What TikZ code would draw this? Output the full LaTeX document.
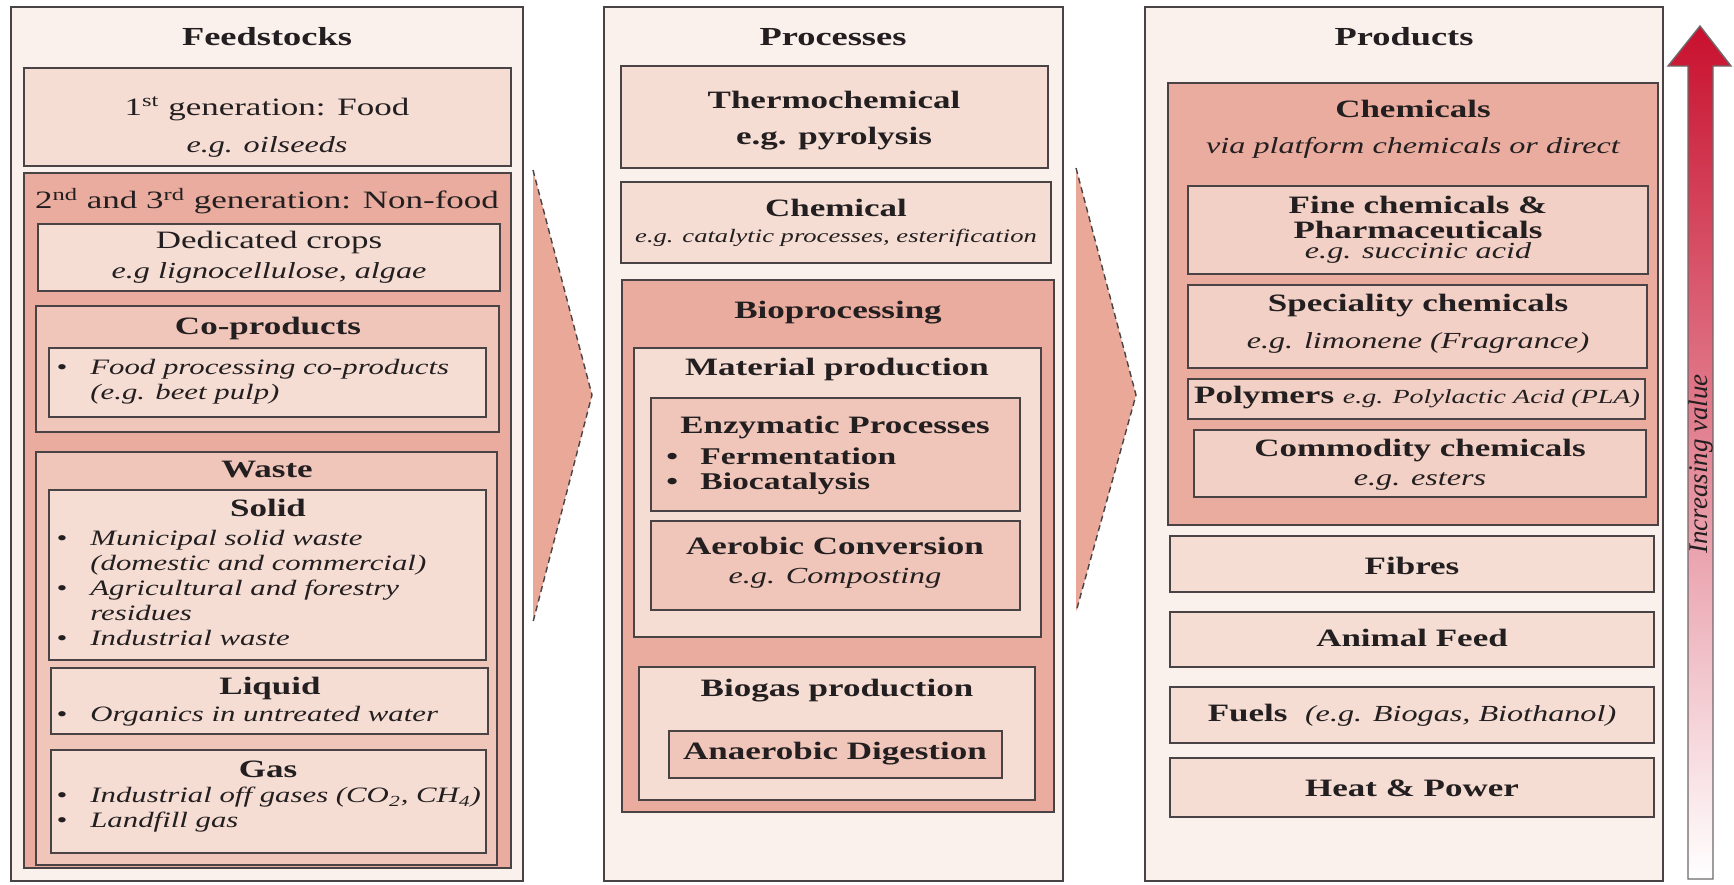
\documentclass[tikz,border=0pt]{standalone}
\usepackage{fontspec}
\setmainfont[FakeStretch=1.4]{Liberation Serif}
\newfontfamily\plainfont{Liberation Serif}
\definecolor{linegray}{HTML}{4A4345}
\definecolor{outerfill}{HTML}{FAF0EC}
\definecolor{lightfill}{HTML}{F6DDD4}
\definecolor{softfill}{HTML}{F3D0C5}
\definecolor{midfill}{HTML}{F1C6BA}
\definecolor{darkfill}{HTML}{EAAC9F}
\definecolor{arrowfill}{HTML}{EAA899}
\definecolor{valuered}{HTML}{C8102E}
\definecolor{ink}{HTML}{231F20}
\newcommand{\itm}{\makebox[17pt][l]{\textbullet}}
\newcommand{\ind}{\hspace*{17pt}}
\begin{document}
\begin{tikzpicture}[x=0.5pt, y=-0.5pt,
		outerbox/.style={draw=linegray, line width=1pt, fill=outerfill},
		lightbox/.style={draw=linegray, line width=1pt, fill=lightfill},
		softbox/.style={draw=linegray, line width=1pt, fill=softfill},
		midbox/.style={draw=linegray, line width=1pt, fill=midfill},
		darkbox/.style={draw=linegray, line width=1pt, fill=darkfill},
		every node/.style={text=ink, inner sep=0pt},
		colttl/.style={font=\bfseries\fontsize{13}{15}\selectfont},
		boxttl/.style={font=\bfseries\fontsize{12.5}{14}\selectfont},
		lbl/.style={font=\fontsize{12.5}{14}\selectfont},
		eg/.style={font=\itshape\fontsize{11.5}{13}\selectfont},
		items/.style={font=\itshape\fontsize{11}{12.5}\selectfont, align=left, anchor=west},
		flowedge/.style={draw=linegray, line width=0.7pt, densely dashed}]
	\useasboundingbox (0,0) rectangle (1734,884);
	\fill[white] (0,0) rectangle (1734,884);

	% Feedstocks column
	\filldraw[outerbox] (11,7) rectangle (523,881);
	\node[colttl] (feed) at (267,37) {Feedstocks};
	\filldraw[lightbox] (24,68) rectangle (511,166);
	\node[lbl] (gen1) at (267,109) {1\textsuperscript{st} generation: Food};
	\node[eg] (gen1eg) at (267,147) {e.g. oilseeds};
	\filldraw[darkbox] (24,173) rectangle (511,868);
	\node[lbl] (gen23) at (267,201) {2\textsuperscript{nd} and 3\textsuperscript{rd} generation: Non-food};
	\filldraw[lightbox] (38,224) rectangle (500,291);
	\node[lbl] (crops) at (269,242) {Dedicated crops};
	\node[eg] (cropseg) at (269,273) {e.g lignocellulose, algae};
	\filldraw[midbox] (36,306) rectangle (499,432);
	\node[boxttl] (coprod) at (268,328) {Co-products};
	\filldraw[lightbox] (49,348) rectangle (486,417);
	\node[items] (coprodtxt) at (56,382) {\itm Food processing co-products\\ \ind(e.g. beet pulp)};
	\filldraw[midbox] (36,452) rectangle (497,865);
	\node[boxttl] (waste) at (267,469) {Waste};
	\filldraw[lightbox] (49,490) rectangle (486,660);
	\node[boxttl] (solid) at (268,508) {Solid};
	\node[items] (solidtxt) at (56,588) {\itm Municipal solid waste\\ \ind(domestic and commercial)\\ \itm Agricultural and forestry\\ \ind residues\\ \itm Industrial waste};
	\filldraw[lightbox] (51,668) rectangle (488,734);
	\node[boxttl] (liquid) at (270,688) {Liquid};
	\node[items] (liquidtxt) at (56,716) {\itm Organics in untreated water};
	\filldraw[lightbox] (51,750) rectangle (486,853);
	\node[boxttl] (gas) at (268,769) {Gas};
	\node[items] (gastxt) at (56,810) {\itm Industrial off gases (CO\textsubscript{2}, CH\textsubscript{4})\\ \itm Landfill gas};

	% Flow arrows
	\fill[arrowfill] (533,170) -- (592,395) -- (533,622) -- cycle;
	\draw[flowedge] (533,170) -- (592,395) -- (533,622);
	\fill[arrowfill] (1076,168) -- (1136,395) -- (1076,612) -- cycle;
	\draw[flowedge] (1076,168) -- (1136,395) -- (1076,612);

	% Processes column
	\filldraw[outerbox] (604,7) rectangle (1063,881);
	\node[colttl] (proc) at (833,37) {Processes};
	\filldraw[lightbox] (621,66) rectangle (1048,168);
	\node[boxttl] (thermo) at (834,100) {Thermochemical};
	\node[boxttl] (thermoeg) at (834,139) {e.g. pyrolysis};
	\filldraw[lightbox] (621,182) rectangle (1051,263);
	\node[boxttl] (chem) at (836,208) {Chemical};
	\node[font=\itshape\fontsize{9.5}{11}\selectfont] (chemeg) at (836,238) {e.g. catalytic processes, esterification};
	\filldraw[darkbox] (622,280) rectangle (1054,812);
	\node[boxttl] (biopro) at (838,313) {Bioprocessing};
	\filldraw[lightbox] (634,348) rectangle (1041,637);
	\node[boxttl] (matprod) at (837,369) {Material production};
	\filldraw[midbox] (651,398) rectangle (1020,511);
	\node[boxttl] (enzy) at (835,428) {Enzymatic Processes};
	\node[items, font=\bfseries\fontsize{12}{12.5}\selectfont] (enzytxt) at (666,471) {\itm Fermentation\\ \itm Biocatalysis};
	\filldraw[midbox] (651,521) rectangle (1020,610);
	\node[boxttl] (aerob) at (835,546) {Aerobic Conversion};
	\node[eg] (aerobeg) at (835,578) {e.g. Composting};
	\filldraw[lightbox] (639,667) rectangle (1035,800);
	\node[boxttl] (biogas) at (837,691) {Biogas production};
	\filldraw[midbox] (669,731) rectangle (1002,778);
	\node[boxttl] (anaer) at (835,754) {Anaerobic Digestion};

	% Products column
	\filldraw[outerbox] (1145,7) rectangle (1663,881);
	\node[colttl] (prod) at (1404,37) {Products};
	\filldraw[darkbox] (1168,83) rectangle (1658,525);
	\node[boxttl] (chems) at (1413,109) {Chemicals};
	\node[eg] (chemseg) at (1413,148) {via platform chemicals or direct};
	\filldraw[softbox] (1188,186) rectangle (1648,274);
	\node[boxttl, align=center, font=\bfseries\fontsize{12.5}{12.5}\selectfont] (fine) at (1418,217) {Fine chemicals \&\\ Pharmaceuticals};
	\node[eg] (fineeg) at (1418,253) {e.g. succinic acid};
	\filldraw[softbox] (1188,285) rectangle (1647,368);
	\node[boxttl] (spec) at (1418,306) {Speciality chemicals};
	\node[eg] (speceg) at (1418,343) {e.g. limonene (Fragrance)};
	\filldraw[softbox] (1188,379) rectangle (1645,419);
	\node[boxttl] (poly) at (1417,398) {Polymers {\mdseries\itshape\fontsize{10}{12}\selectfont e.g. Polylactic Acid (PLA)}};
	\filldraw[softbox] (1194,430) rectangle (1646,497);
	\node[boxttl] (commod) at (1420,451) {Commodity chemicals};
	\node[eg] (commodeg) at (1420,481) {e.g. esters};
	\filldraw[lightbox] (1170,536) rectangle (1654,592);
	\node[boxttl] (fibres) at (1412,566) {Fibres};
	\filldraw[lightbox] (1170,612) rectangle (1654,667);
	\node[boxttl] (feed2) at (1412,638) {Animal Feed};
	\filldraw[lightbox] (1170,687) rectangle (1654,743);
	\node[boxttl] (fuels) at (1412,715) {Fuels\ \ {\mdseries\itshape\fontsize{11.5}{13}\selectfont (e.g. Biogas, Biothanol)}};
	\filldraw[lightbox] (1170,758) rectangle (1654,817);
	\node[boxttl] (heat) at (1412,788) {Heat \& Power};

	% Increasing value arrow
	\shade[top color=valuered, middle color=valuered!65!white, bottom color=white]
		(1688,879) -- (1688,66) -- (1668,66) -- (1700,26) -- (1731,66) -- (1713,66) -- (1713,879) -- cycle;
	\draw[linegray!80, line width=0.7pt]
		(1688,879) -- (1688,66) -- (1668,66) -- (1700,26) -- (1731,66) -- (1713,66) -- (1713,879) -- cycle;
	\node[rotate=90, font=\plainfont\itshape\fontsize{13.5}{15}\selectfont] (value) at (1701,464) {Increasing value};
\end{tikzpicture}
\end{document}
